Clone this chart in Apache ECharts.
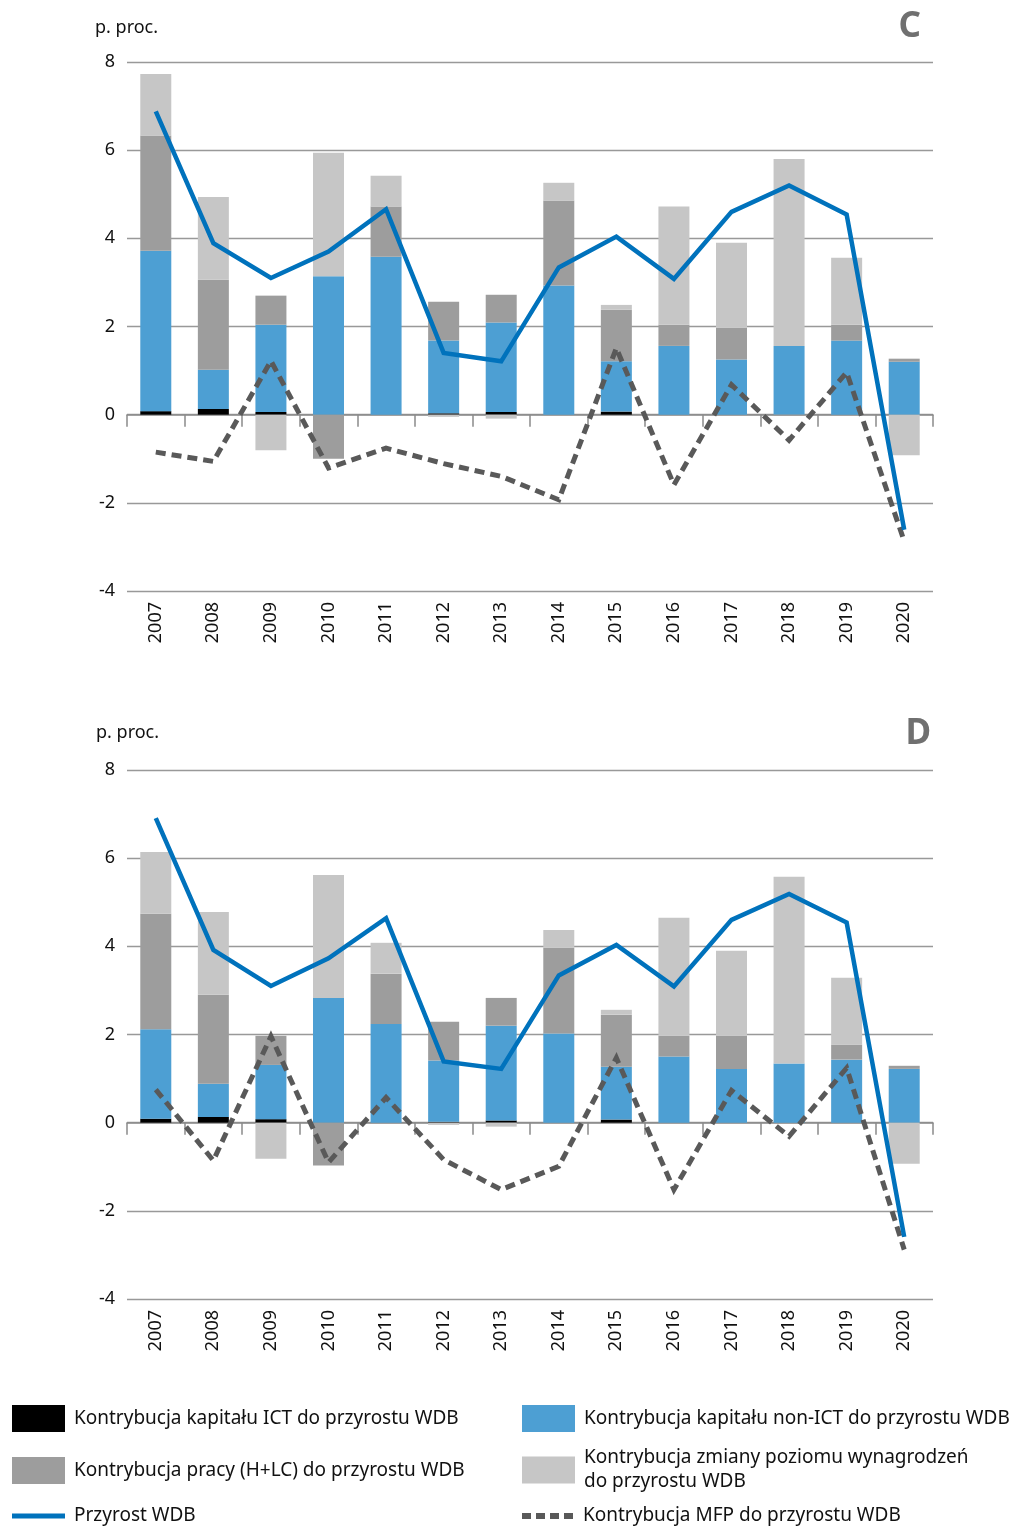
<!DOCTYPE html>
<html>
<head>
<meta charset="utf-8">
<script src="https://cdn.jsdelivr.net/npm/echarts@6/dist/echarts.min.js"></script>
<style>
html,body{margin:0;padding:0;background:#fff;}
#chart{width:1015px;height:1528px;}
</style>
</head>
<body>
<div id="chart"></div>
<script>
// ---- data ----
const years = ['2007','2008','2009','2010','2011','2012','2013','2014','2015','2016','2017','2018','2019','2020'];
const yTicks = [-4, -2, 0, 2, 4, 6, 8];

const names = {
  ict: 'Kontrybucja kapitału ICT do przyrostu WDB',
  nonIct: 'Kontrybucja kapitału non-ICT do przyrostu WDB',
  labour: 'Kontrybucja pracy (H+LC) do przyrostu WDB',
  wage: 'Kontrybucja zmiany poziomu wynagrodzeń do przyrostu WDB',
  wdb: 'Przyrost WDB',
  mfp: 'Kontrybucja MFP do przyrostu WDB'
};

// Panel C
const ictC    = [0.08, 0.13, 0.06, 0, 0, 0.03, 0.06, 0, 0.07, 0, 0, 0, 0, 0];
const nonIctC = [3.64, 0.89, 1.98, 3.14, 3.58, 1.65, 2.03, 2.93, 1.14, 1.56, 1.25, 1.56, 1.68, 1.20];
const labourC = [2.61, 2.04, 0.66, -1.00, 1.14, 0.88, 0.63, 1.92, 1.17, 0.48, 0.72, -0.02, 0.36, 0.07];
const wageC   = [1.40, 1.88, -0.81, 2.80, 0.70, -0.05, -0.09, 0.41, 0.11, 2.68, 1.93, 4.24, 1.52, -0.92];
const wdbC    = [6.88, 3.89, 3.10, 3.70, 4.66, 1.40, 1.21, 3.34, 4.04, 3.08, 4.60, 5.20, 4.54, -2.61];
const mfpC    = [-0.85, -1.06, 1.22, -1.21, -0.76, -1.11, -1.40, -1.93, 1.51, -1.59, 0.68, -0.58, 0.96, -2.87];

// Panel D
const ictD    = [0.09, 0.13, 0.08, 0, 0, 0.02, 0.05, 0, 0.07, 0, 0, 0, 0, 0];
const nonIctD = [2.03, 0.75, 1.23, 2.83, 2.24, 1.39, 2.15, 2.02, 1.20, 1.50, 1.22, 1.34, 1.43, 1.22];
const labourD = [2.62, 2.02, 0.66, -0.97, 1.14, 0.88, 0.63, 1.95, 1.18, 0.47, 0.75, 0, 0.34, 0.07];
const wageD   = [1.40, 1.88, -0.82, 2.79, 0.70, -0.05, -0.09, 0.40, 0.11, 2.68, 1.93, 4.24, 1.52, -0.93];
const wdbD    = [6.91, 3.92, 3.10, 3.73, 4.64, 1.39, 1.22, 3.34, 4.03, 3.09, 4.60, 5.19, 4.54, -2.59];
const mfpD    = [0.75, -0.86, 1.96, -0.90, 0.57, -0.84, -1.52, -0.99, 1.47, -1.52, 0.73, -0.31, 1.24, -2.88];

// ---- styles ----
const FONT = 'Noto Sans';
const colors = {
  ict: '#000000', nonIct: '#4d9fd3', labour: '#9d9d9d', wage: '#c6c6c6',
  wdb: '#0072bc', mfp: '#595959'
};

const chart = echarts.init(document.getElementById('chart'), null, {renderer: 'canvas'});

function grid(top) {
  return {left: 127, width: 806, top: top, height: 529, containLabel: false};
}
function labelAxis(gi) {
  return {
    type: 'category', gridIndex: gi, data: years, position: 'bottom',
    axisLine: {show: false, onZero: false}, axisTick: {show: false},
    axisLabel: {rotate: 90, margin: 11, fontSize: 18, color: '#111', fontFamily: FONT},
    splitLine: {show: false}
  };
}
function zeroAxis(gi) {
  return {
    type: 'category', gridIndex: gi, data: years, position: 'bottom',
    axisLine: {show: true, onZero: true, lineStyle: {color: '#8a8a8a', width: 1.5}},
    axisTick: {show: true, length: 12, lineStyle: {color: '#8a8a8a', width: 1.5}},
    axisLabel: {show: false}, splitLine: {show: false}
  };
}
function valAxis(gi) {
  return {
    type: 'value', gridIndex: gi, min: yTicks[0], max: yTicks[yTicks.length - 1], interval: 2,
    axisLine: {show: false}, axisTick: {show: false},
    axisLabel: {fontSize: 18, color: '#111', fontFamily: FONT, margin: 12},
    splitLine: {lineStyle: {color: '#999', width: 1.3}}
  };
}
function barS(name, data, color, xi, yi) {
  return {
    name: name, type: 'bar', stack: 'tot' + yi, xAxisIndex: xi, yAxisIndex: yi,
    data: data, barWidth: 31, itemStyle: {color: color}, stackStrategy: 'samesign',
    emphasis: {disabled: true}
  };
}
function lineS(name, data, color, dash, xi, yi) {
  return {
    name: name, type: 'line', xAxisIndex: xi, yAxisIndex: yi, data: data,
    symbol: 'none', z: dash ? 4 : 5,
    lineStyle: {color: color, width: dash ? 5 : 4.5, type: dash ? [10, 6] : 'solid', join: 'miter'},
    itemStyle: {color: color}, emphasis: {disabled: true}
  };
}
function panelSeries(xi, yi, ict, nonIct, labour, wage, wdb, mfp) {
  return [
    barS(names.ict, ict, colors.ict, xi, yi),
    barS(names.nonIct, nonIct, colors.nonIct, xi, yi),
    barS(names.labour, labour, colors.labour, xi, yi),
    barS(names.wage, wage, colors.wage, xi, yi),
    lineS(names.mfp, mfp, colors.mfp, true, xi, yi),
    lineS(names.wdb, wdb, colors.wdb, false, xi, yi)
  ];
}

const DASH_ICON = 'path://M0,0h9v6h-9z M14,0h9v6h-9z M28,0h9v6h-9z M42,0h9v6h-9z';

function legendItem(name, left, top, icon, iconH, label) {
  return {
    data: [name], left: left, top: top, padding: 0, orient: 'horizontal',
    itemWidth: 53, itemHeight: iconH, icon: icon,
    selectedMode: false,
    formatter: label ? function () { return label; } : undefined,
    textStyle: {fontSize: 19, color: '#111', fontFamily: FONT, lineHeight: 24, padding: [0, 0, 0, 4]}
  };
}

const option = {
  backgroundColor: '#fff',
  animation: false,
  textStyle: {fontFamily: FONT},
  grid: [grid(62), grid(770)],
  xAxis: [labelAxis(0), zeroAxis(0), labelAxis(1), zeroAxis(1)],
  yAxis: [valAxis(0), valAxis(1)],
  legend: [
    legendItem(names.ict, 12, 1405, 'rect', 27),
    legendItem(names.nonIct, 522, 1405, 'rect', 27),
    legendItem(names.labour, 12, 1457, 'rect', 27),
    legendItem(names.wage, 522, 1446, 'rect', 27, 'Kontrybucja zmiany poziomu wynagrodzeń\ndo przyrostu WDB'),
    legendItem(names.wdb, 12, 1504, 'rect', 5),
    legendItem(names.mfp, 522, 1504, DASH_ICON, 6)
  ],
  graphic: [
    {type: 'text', left: 95, top: 19, style: {text: 'p. proc.', font: '18px "Noto Sans"', fill: '#111'}},
    {type: 'text', right: 94, top: 10, style: {text: 'C', font: 'bold 35px "Noto Sans"', fill: '#707070'}},
    {type: 'text', left: 96, top: 724, style: {text: 'p. proc.', font: '18px "Noto Sans"', fill: '#111'}},
    {type: 'text', right: 84, top: 717, style: {text: 'D', font: 'bold 35px "Noto Sans"', fill: '#707070'}}
  ],
  series: [].concat(
    panelSeries(1, 0, ictC, nonIctC, labourC, wageC, wdbC, mfpC),
    panelSeries(3, 1, ictD, nonIctD, labourD, wageD, wdbD, mfpD)
  )
};
chart.setOption(option);
</script>
</body>
</html>
